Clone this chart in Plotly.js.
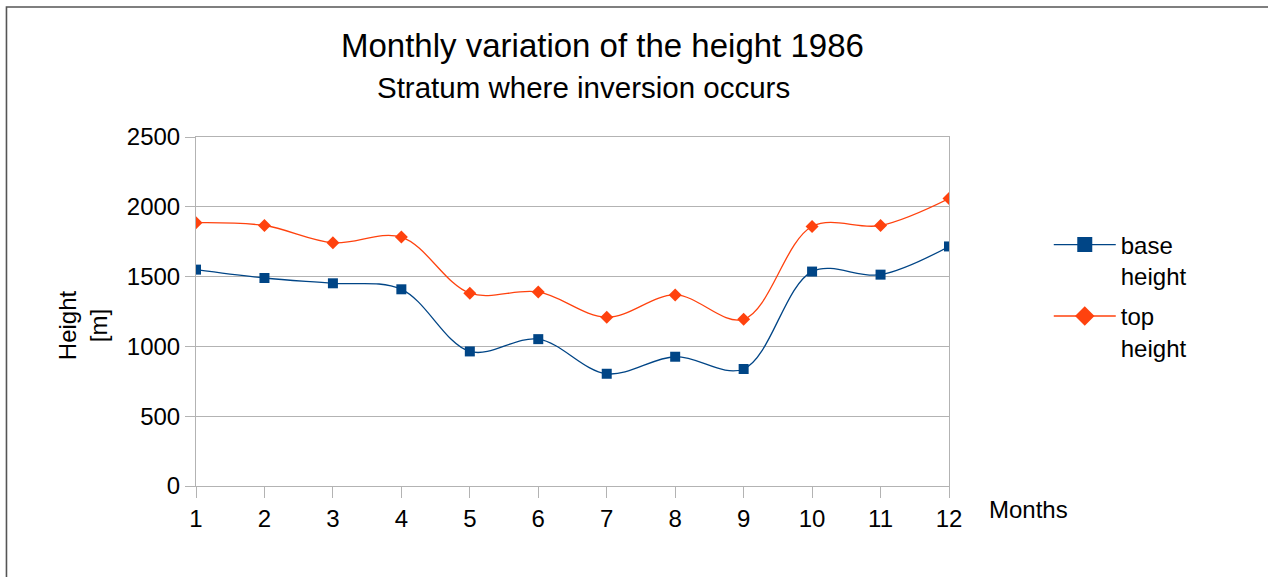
<!DOCTYPE html>
<html>
<head>
<meta charset="utf-8">
<script src="https://cdn.plot.ly/plotly-3.0.1.min.js"></script>
<style>
html,body{margin:0;padding:0;background:#fff;}
#chart{width:1268px;height:577px;}
</style>
</head>
<body>
<div id="chart"></div>
<script>
var months = [1,2,3,4,5,6,7,8,9,10,11,12];
var baseHeight = [1550,1490,1452,1409,964,1052,804,926,838,1536,1514,1716];
var topHeight = [1886,1866,1743,1783,1381,1390,1209,1369,1195,1859,1866,2059];
var seriesNames = ["base<br>height","top<br>height"];
var titleText = "Monthly variation of the height 1986";
var subtitleText = "Stratum where inversion occurs";
var yTitleText = "Height<br>[m]";
var xTitleText = "Months";

var FONT = "Liberation Sans, Arial, sans-serif";
var BLUE = "#004586", ORANGE = "#ff420e";
var traces = [
  {x: months, y: baseHeight, name: seriesNames[0], type: "scatter", mode: "lines+markers",
   line: {color: BLUE, width: 1.3, shape: "spline"}, showlegend: false,
   marker: {symbol: "square", size: 10, color: BLUE}},
  {x: months, y: topHeight, name: seriesNames[1], type: "scatter", mode: "lines+markers",
   line: {color: ORANGE, width: 1.3, shape: "spline"}, showlegend: false,
   marker: {symbol: "diamond", size: 10, color: ORANGE}},
  /* legend entries (no data drawn) with larger legend symbols */
  {x: [null], y: [null], name: seriesNames[0], type: "scatter", mode: "lines+markers", legendgroup: "a",
   line: {color: BLUE, width: 1.3}, marker: {symbol: "square", size: 15, color: BLUE}, hoverinfo: "skip"},
  {x: [null], y: [null], name: seriesNames[1], type: "scatter", mode: "lines+markers", legendgroup: "b",
   line: {color: ORANGE, width: 1.3}, marker: {symbol: "diamond", size: 15, color: ORANGE}, hoverinfo: "skip"}
];
var layout = {
  width: 1268, height: 577,
  margin: {l: 196, r: 319, t: 137, b: 91, pad: 0},
  paper_bgcolor: "#ffffff", plot_bgcolor: "#ffffff",
  font: {family: FONT, size: 24, color: "#000"},
  showlegend: true,
  legend: {x: 1.1325, y: 0.755, xanchor: "left", yanchor: "top", valign: "top",
           font: {family: FONT, size: 24, color: "#000"}, itemwidth: 62, tracegroupgap: 6,
           bgcolor: "rgba(0,0,0,0)", borderwidth: 0},
  xaxis: {range: [1, 12], tickvals: months, ticktext: months.map(String),
          showgrid: false, zeroline: false, showline: true, linecolor: "#b3b3b3", linewidth: 1,
          mirror: true, ticks: "outside", ticklen: 11, tickcolor: "#b3b3b3", tickwidth: 1,
          tickfont: {family: FONT, size: 24, color: "#000"}, fixedrange: true},
  yaxis: {range: [0, 2500], dtick: 500, tick0: 0, showgrid: true, gridcolor: "#b3b3b3", gridwidth: 1,
          zeroline: false, showline: true, linecolor: "#b3b3b3", linewidth: 1, mirror: true,
          ticks: "outside", ticklen: 10, tickcolor: "#b3b3b3", tickwidth: 1,
          tickfont: {family: FONT, size: 24, color: "#000"}, fixedrange: true},
  annotations: [
    {text: titleText, xref: "paper", yref: "paper", x: 0.5405, y: 1.261, xanchor: "center", yanchor: "middle",
     showarrow: false, font: {family: FONT, size: 33, color: "#000"}},
    {text: subtitleText, xref: "paper", yref: "paper", x: 0.514, y: 1.143, xanchor: "center", yanchor: "middle",
     showarrow: false, font: {family: FONT, size: 29.5, color: "#000"}},
    {text: yTitleText, xref: "paper", yref: "paper", x: -0.150, y: 0.461, xanchor: "center", yanchor: "middle",
     textangle: -90, showarrow: false, font: {family: FONT, size: 24, color: "#000"}},
    {text: xTitleText, xref: "paper", yref: "paper", x: 1.106, y: -0.066, xanchor: "center", yanchor: "middle",
     showarrow: false, font: {family: FONT, size: 24, color: "#000"}}
  ],
  shapes: [
    {type: "path", xref: "paper", yref: "paper",
     path: "M -0.2517,-0.27 L -0.2517,1.3725 L 1.43,1.3725",
     line: {color: "#555555", width: 1.6}}
  ]
};
Plotly.newPlot("chart", traces, layout, {displayModeBar: false, staticPlot: true});
</script>
</body>
</html>
